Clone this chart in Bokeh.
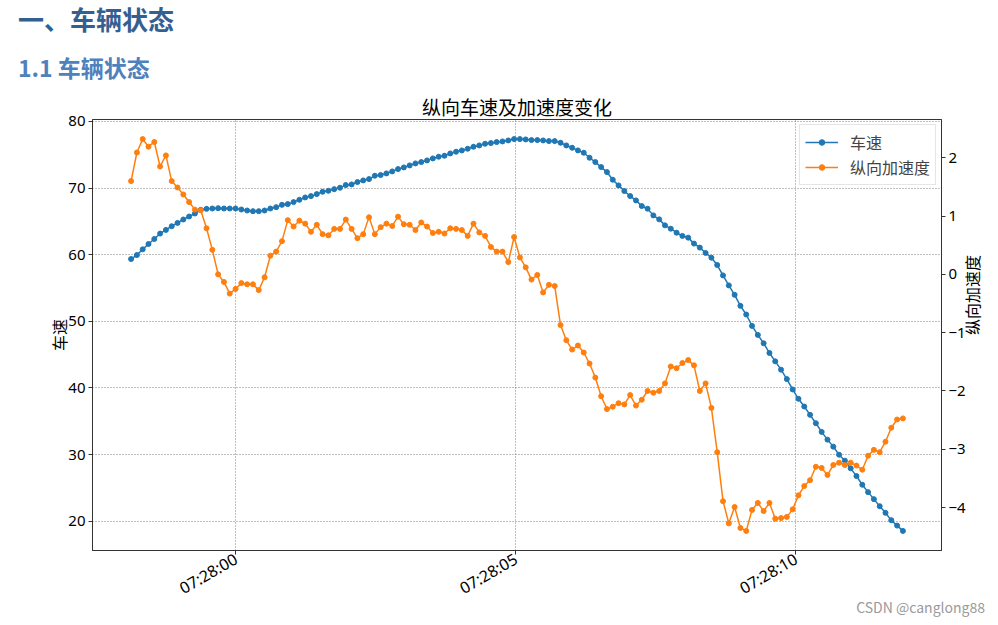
import math
from datetime import datetime
from bokeh.plotting import figure
from bokeh.layouts import column
from bokeh.models import (Range1d, LinearAxis, FixedTicker, DatetimeTickFormatter,
                          Legend, LegendItem, Div)
from bokeh.embed import file_html
from bokeh.resources import INLINE

# ---------------- data ----------------
speed = [59.35, 59.95, 60.8, 61.6, 62.36, 63.17, 63.72, 64.27, 64.77, 65.28,
         65.73, 66.18, 66.73, 66.88, 66.93, 66.98, 66.93, 66.93, 66.93, 66.78,
         66.63, 66.53, 66.53, 66.63, 66.93, 67.13, 67.48, 67.59, 67.89, 68.24,
         68.59, 68.79, 69.09, 69.44, 69.59, 69.84, 70.05, 70.45, 70.55, 70.9,
         71.15, 71.35, 71.85, 71.95, 72.2, 72.5,
         72.85, 73.1, 73.4, 73.7, 73.9, 74.15, 74.45, 74.7, 74.85, 75.2,
         75.45, 75.65, 75.9, 76.2, 76.4, 76.65, 76.75, 76.9, 77.0, 77.15,
         77.35, 77.35, 77.3, 77.2, 77.2, 77.15, 77.05, 77.05, 76.8, 76.4,
         76.05, 75.65, 75.3, 74.55, 73.9, 73.15, 72.4, 71.25, 70.4, 69.55,
         68.8, 68.15, 67.3, 66.9, 65.9, 65.3, 64.4, 63.9, 63.3,
         62.82, 62.56, 61.66, 61.06, 60.26, 59.55, 58.45, 56.89, 55.39, 53.98,
         52.32, 51.02, 49.31,
         47.96, 46.7, 45.25, 43.99, 42.74, 41.33, 39.77, 38.37, 37.21, 35.96,
         34.7, 33.4, 32.24, 31.19, 29.98, 29.08, 27.93, 26.77, 25.47, 24.36,
         23.31, 22.25, 21.25, 20.15, 19.34, 18.54]

accel = [1.60, 2.09, 2.32, 2.19, 2.27, 1.85, 2.04, 1.60, 1.49, 1.37,
         1.24, 1.11, 1.10, 0.79, 0.42, 0.00, -0.13, -0.33, -0.25, -0.15,
         -0.17, -0.17, -0.27, -0.05, 0.32, 0.39, 0.57, 0.93, 0.82, 0.92,
         0.87, 0.73, 0.85, 0.69, 0.67, 0.78, 0.78, 0.94, 0.78, 0.62,
         0.69, 0.98, 0.69, 0.81, 0.87, 0.83,
         0.99, 0.86, 0.85, 0.76, 0.89, 0.82, 0.71, 0.73, 0.70, 0.79,
         0.78, 0.76, 0.66, 0.87, 0.72, 0.66, 0.47, 0.39, 0.39, 0.21,
         0.64, 0.29, 0.12, -0.09, -0.01, -0.31, -0.18, -0.20, -0.87,
         -1.13, -1.29, -1.22, -1.34, -1.53, -1.77, -2.09, -2.31, -2.27, -2.21,
         -2.23, -2.07, -2.25, -2.15, -2.00, -2.03, -2.00, -1.87, -1.58, -1.61,
         -1.52, -1.47, -1.56, -2.00, -1.87, -2.29, -3.05, -3.89, -4.27, -3.99,
         -4.35, -4.40, -4.04, -3.92, -4.06, -3.92, -4.19, -4.18, -4.16, -4.03,
         -3.79, -3.63, -3.53, -3.30, -3.32, -3.44, -3.27, -3.23, -3.27, -3.23,
         -3.28, -3.35, -3.11, -3.01, -3.05, -2.87, -2.63, -2.49, -2.47]

log_date = "2023-01-01"
first_sample = "07:27:58.130"
sample_step_s = 0.1036

x_tick_labels = ["07:28:00", "07:28:05", "07:28:10"]
speed_ticks = [20, 30, 40, 50, 60, 70, 80]
accel_ticks = [-4, -3, -2, -1, 0, 1, 2]
accel_tick_labels = ["\u22124", "\u22123", "\u22122", "\u22121", "0", "1", "2"]

series_names = ["车速", "纵向加速度"]
chart_title = "纵向车速及加速度变化"
heading1 = "一、车辆状态"
heading2 = "1.1 车辆状态"
watermark = "CSDN @canglong88"

# ---------------- helpers ----------------
EPOCH = datetime(1970, 1, 1)


def to_ms(hms):
    fmt = "%Y-%m-%d %H:%M:%S.%f" if "." in hms else "%Y-%m-%d %H:%M:%S"
    return (datetime.strptime(f"{log_date} {hms}", fmt) - EPOCH).total_seconds() * 1000.0


t0 = to_ms(first_sample)
times = [t0 + i * sample_step_s * 1000.0 for i in range(len(speed))]
x_ticks = [to_ms(s) for s in x_tick_labels]


def padded(lo, hi, frac=0.05):
    d = (hi - lo) * frac
    return lo - d, hi + d


FONT = "Noto Sans CJK SC"
TICK_FONT = "Noto Sans"
C0 = "#1f77b4"
C1 = "#ff7f0e"
DARK = "#333333"

W = 998
HEAD_H = 80
FRAME_L, FRAME_R, FRAME_T, FRAME_B = 92, 941, 119, 550
BOTTOM = 61
FIG_H = (FRAME_B - HEAD_H) + BOTTOM

# ---------------- page headings (HTML) ----------------
head_html = (
    f'<div style="position:relative;width:400px;height:{HEAD_H}px;">'
    f'<div style="position:absolute;left:18px;top:0px;height:38px;white-space:nowrap;'
    f'font-family:\'{FONT}\';font-size:26px;line-height:38px;font-weight:bold;'
    f'color:#365F91;">{heading1}</div>'
    f'<div style="position:absolute;left:18px;top:50px;height:34px;white-space:nowrap;'
    f'font-family:\'{FONT}\';font-size:23px;line-height:34px;font-weight:bold;'
    f'color:#4F81BD;">{heading2}</div>'
    '</div>'
)
head = Div(text=head_html, width=400, height=HEAD_H, margin=(0, 0, 0, 0))

# ---------------- chart ----------------
p = figure(width=W, height=FIG_H, x_axis_type="datetime",
           x_range=Range1d(*padded(min(times), max(times))),
           y_range=Range1d(*padded(min(speed), max(speed))),
           output_backend="svg", toolbar_location=None,
           min_border_left=FRAME_L, min_border_right=W - FRAME_R,
           min_border_top=FRAME_T - HEAD_H, min_border_bottom=BOTTOM,
           title=chart_title, margin=(0, 0, 0, 0))
p.extra_y_ranges = {"acc": Range1d(*padded(min(accel), max(accel)))}

p.background_fill_color = "white"
p.border_fill_color = "white"
p.outline_line_color = DARK
p.outline_line_width = 1

p.title.align = "center"
p.title.text_font = FONT
p.title.text_font_size = "19px"
p.title.text_font_style = "normal"
p.title.text_color = "black"
p.title.text_line_height = 1.1
p.title.standoff = 0

ax2 = LinearAxis(y_range_name="acc", axis_label=series_names[1],
                 ticker=FixedTicker(ticks=accel_ticks),
                 major_label_overrides=dict(zip(accel_ticks, accel_tick_labels)))
p.add_layout(ax2, "right")

xaxis = p.xaxis[0]
xaxis.ticker = FixedTicker(ticks=x_ticks)
fmt = "%H:%M:%S"
xaxis.formatter = DatetimeTickFormatter(microseconds=fmt, milliseconds=fmt, seconds=fmt,
                                        minsec=fmt, minutes=fmt, hourmin=fmt, hours=fmt)
xaxis.major_label_orientation = math.pi / 6

yaxis = p.yaxis[0]
yaxis.ticker = FixedTicker(ticks=speed_ticks)
yaxis.axis_label = series_names[0]

for ax in [xaxis, yaxis, ax2]:
    ax.axis_line_color = DARK
    ax.major_tick_line_color = DARK
    ax.major_tick_in = 0
    ax.major_tick_out = 4
    ax.minor_tick_line_color = None
    ax.major_label_text_font = TICK_FONT
    ax.major_label_text_font_size = "15px"
    ax.major_label_text_color = "black"
    ax.major_label_standoff = 3
    ax.axis_label_text_font = FONT
    ax.axis_label_text_font_size = "16px"
    ax.axis_label_text_font_style = "normal"
    ax.axis_label_text_color = "black"
xaxis.major_label_text_font_size = "16px"
yaxis.axis_label_standoff = -6
ax2.axis_label_standoff = 3
ax2.axis_label_orientation = math.pi / 2

for g in [p.xgrid[0], p.ygrid[0]]:
    g.grid_line_color = "#808080"
    g.grid_line_dash = "1 2"
    g.grid_line_width = 1

r1 = p.line(times, speed, color=C0, line_width=1.5)
r1s = p.scatter(times, speed, size=5, color=C0)
r2 = p.line(times, accel, color=C1, line_width=1.5, y_range_name="acc")
r2s = p.scatter(times, accel, size=5, color=C1, y_range_name="acc")

legend = Legend(items=[LegendItem(label=series_names[0], renderers=[r1, r1s]),
                       LegendItem(label=series_names[1], renderers=[r2, r2s])],
                location="top_right")
legend.label_text_font = FONT
legend.label_text_font_size = "16px"
legend.glyph_width = 33
legend.glyph_height = 14
legend.label_height = 14
legend.label_standoff = 12
legend.spacing = 1
legend.padding = 5
legend.margin = 5
legend.border_line_color = "#cccccc"
legend.border_line_width = 1
legend.background_fill_alpha = 0.85
p.add_layout(legend)

# ---------------- watermark (HTML) ----------------
wm_html = (f'<div style="width:{W - 13}px;text-align:right;white-space:nowrap;'
           f'font-family:\'{FONT}\';font-size:14px;line-height:16px;color:#9a9a9a;">'
           f'{watermark}</div>')
wm = Div(text=wm_html, width=W, height=16, margin=(-12, 0, 0, 0))

layout = column(head, p, wm, spacing=0)
open("out.html", "w").write(file_html(layout, INLINE))
